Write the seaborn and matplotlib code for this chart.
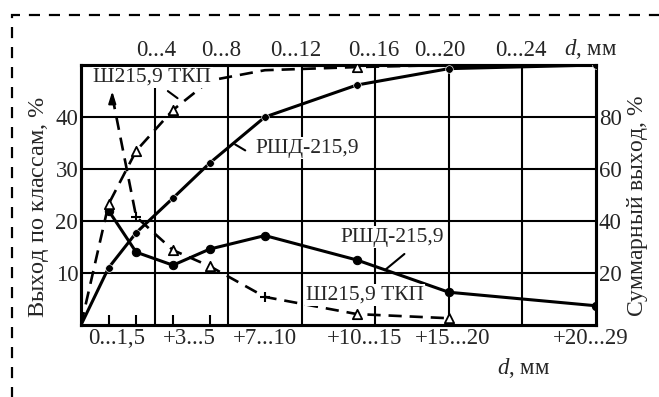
import matplotlib
matplotlib.use("Agg")
import matplotlib.pyplot as plt
import seaborn as sns
from matplotlib.patches import Rectangle

# ---- data ----
d_rshd = [1.5, 3, 5, 7, 10, 15, 20, 28]                 # class upper bound, mm
rshd_diff = [22.0, 14.0, 11.5, 14.6, 17.2, 12.5, 6.3, 3.7]   # yield by class, %
d_cum = [0, 1.5, 3, 5, 7, 10, 15, 20, 28]
rshd_cum = [0, 22.0, 35.5, 48.8, 62.3, 80.0, 92.3, 98.6, 100.0]  # cumulative, %
d_tkp = [1.7, 3, 5, 7, 10, 15, 20]
tkp_diff = [44.0, 20.8, 14.4, 11.3, 5.4, 2.1, 1.3]
tkp_cum = [0, 46.5, 67.0, 82.7, 94.0, 98.0, 99.2, 100.0, 100.0]

bottom_labels = ["0...1,5", "+3...5", "+7...10", "+10...15", "+15...20", "+20...29"]
bottom_pos = [1.95, 5.9, 10.0, 15.4, 20.2, 27.7]
top_labels = ["0...4", "0...8", "0...12", "0...16", "0...20", "0...24", "$d$, мм"]
top_pos = [4.1, 7.6, 11.7, 15.9, 19.5, 23.9, 27.7]
grid_d = [4, 8, 12, 16, 20, 24]
left_ticks = [10, 20, 30, 40]
right_ticks = [20, 40, 60, 80]
small_ticks = [1.5, 3, 5, 7]

sns.set_style("white")
plt.rcParams['font.family'] = ['Liberation Serif', 'DejaVu Serif']
plt.rcParams['mathtext.fontset'] = 'custom'
plt.rcParams['mathtext.rm'] = 'Liberation Serif'
plt.rcParams['mathtext.it'] = 'Liberation Serif:italic'

FS = 16.5
fig = plt.figure(figsize=(6.59, 3.97), dpi=100)
ax = fig.add_axes([81 / 659, 1 - 325 / 397, 515 / 659, 260 / 397])
ax_r = ax.twinx()
ax.set_xlim(0, 28)
ax.set_ylim(0, 50)
ax_r.set_ylim(0, 100)

# grid
ax.set_xticks(bottom_pos)
ax.set_xticklabels(bottom_labels)
ax.set_xticks(grid_d, minor=True)
ax.set_yticks(left_ticks)
ax.grid(which='minor', axis='x', color='black', lw=1.5)
ax.grid(which='major', axis='y', color='black', lw=1.5)
ax.grid(which='major', axis='x', visible=False)
ax.tick_params(axis='x', which='both', length=0, labelsize=FS, pad=2)
ax.tick_params(axis='y', length=0, labelsize=FS, pad=2)
ax_r.set_yticks(right_ticks)
ax_r.tick_params(axis='y', length=0, labelsize=FS, pad=2)
ax_r.grid(False)

sec = ax.secondary_xaxis('top')
sec.set_xticks(top_pos)
sec.set_xticklabels(top_labels)
sec.tick_params(length=0, labelsize=FS, pad=3)
sec.spines['top'].set_visible(False)

sec2 = ax.secondary_xaxis('bottom')
sec2.set_xticks(small_ticks)
sec2.set_xticklabels([])
sec2.tick_params(direction='in', length=7, width=1.5, color='black')
sec2.spines['bottom'].set_visible(False)

for a in (ax, ax_r):
    for s in a.spines.values():
        s.set_color('black')
        s.set_linewidth(2.2)

# differential curves (left axis)
sns.lineplot(x=d_rshd, y=rshd_diff, ax=ax, color='black', lw=2.2,
             marker='o', markersize=6, markeredgecolor='black')
sns.lineplot(x=d_tkp, y=tkp_diff, ax=ax, color='black', lw=1.9,
             linestyle=(0, (5, 3)))
sns.scatterplot(x=[d_tkp[i] for i in (2, 3, 5, 6)], y=[tkp_diff[i] for i in (2, 3, 5, 6)],
                ax=ax, marker='^', s=45, facecolor='white', edgecolor='black',
                linewidth=1.3, zorder=5)
sns.scatterplot(x=[d_tkp[i] for i in (1, 4)], y=[tkp_diff[i] for i in (1, 4)],
                ax=ax, marker='+', s=60, color='black', linewidth=1.5, zorder=5)
ax.annotate('', xy=(d_tkp[0], tkp_diff[0] + 1.5), xytext=(d_tkp[0], tkp_diff[0] - 2),
            arrowprops=dict(arrowstyle='-|>,head_length=0.7,head_width=0.22',
                            color='black', lw=1.5))

# cumulative curves (right axis)
sns.lineplot(x=d_cum, y=rshd_cum, ax=ax_r, color='black', lw=2.2)
sns.scatterplot(x=d_cum[1:], y=rshd_cum[1:], ax=ax_r, marker='o', s=30,
                color='black', zorder=5)
sns.lineplot(x=d_cum, y=tkp_cum, ax=ax_r, color='black', lw=1.9,
             linestyle=(0, (5, 3)))
sns.scatterplot(x=[d_cum[i] for i in (1, 2, 3, 6)], y=[tkp_cum[i] for i in (1, 2, 3, 6)],
                ax=ax_r, marker='^', s=45, facecolor='white', edgecolor='black',
                linewidth=1.3, zorder=5)
ax_r.set_ylabel('')
ax.set_ylabel('')
ax.set_xlabel('')

# curve labels with leaders
LFS = 15.5
bb = dict(facecolor='white', edgecolor='none', pad=1)
lab = [("Ш215,9 ТКП", 3.88, 47.6, (4.6, 45.3), (5.37, 43.3)),
       ("РШД-215,9", 12.3, 34.0, (9.06, 33.3), (8.25, 35.0)),
       ("РШД-215,9", 16.9, 16.9, (17.7, 14.0), (16.4, 10.2)),
       ("Ш215,9 ТКП", 15.45, 5.8, None, None)]
for txt, x, y, p0, p1 in lab:
    ax_r.text(x, y, txt, transform=ax.transData, ha='center', va='center',
              fontsize=LFS, bbox=bb, zorder=10)
    if p0 is not None:
        ax_r.annotate('', xy=p1, xytext=p0, xycoords=ax.transData, textcoords=ax.transData,
                      arrowprops=dict(arrowstyle='-', color='black', lw=1.5), zorder=10)

# axis titles
fig.text(39 / 659, 1 - 207 / 397, "Выход по классам, $\\mathit{\\%}$", rotation=90,
         ha='center', va='center', fontsize=17.5)
fig.text(637 / 659, 1 - 206 / 397, "Суммарный выход, $\\mathit{\\%}$", rotation=90,
         ha='center', va='center', fontsize=17)
fig.text(524 / 659, 1 - 368 / 397, "$d$, мм", ha='center', va='center', fontsize=FS)

# dashed frame
fig.add_artist(Rectangle((12 / 659, -0.2), 1.2, 1 - 15 / 397 + 0.2, transform=fig.transFigure,
                         fill=False, edgecolor='black', lw=1.6, linestyle=(0, (5, 4))))

fig.savefig("out.png", dpi=100)
